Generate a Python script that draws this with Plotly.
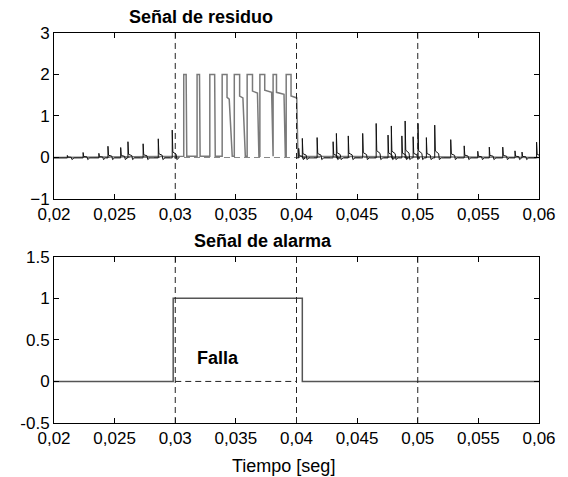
import plotly.graph_objects as go

# ---------------- data (time in ms) ----------------
# residue pulses during the fault (0.03 - 0.04 s)
pulse_rise_ms = [30.70, 31.80, 32.85, 33.87, 34.87, 35.93, 36.98, 38.07, 39.15]
pulse_top_end_ms = [30.90, 32.00, 33.25, 34.27, 35.31, 36.37, 37.38, 38.35, 39.55]
pulse_top = [2.0, 2.0, 2.0, 2.0, 2.0, 2.0, 2.0, 2.0, 2.0]
pulse_step_level = [2.0, 2.0, 2.0, 1.45, 1.48, 1.60, 1.62, 1.57, 1.48]
pulse_step_end_ms = [30.90, 32.00, 33.25, 34.45, 35.58, 36.78, 37.95, 38.97, 40.02]
pulse_fall_end_ms = [30.95, 32.05, 33.30, 34.70, 35.78, 36.90, 38.03, 39.08, 40.12]

# residue spikes outside the fault
spike_t_ms = [21.1, 22.4, 23.7, 24.45, 25.5, 26.1, 27.35, 28.6, 29.75,
              40.18, 40.48, 41.70, 43.02, 43.29, 44.27, 45.46, 46.57, 47.55,
              47.82, 48.69, 48.96, 49.62, 50.02, 50.71, 51.40, 52.72, 53.83,
              54.95, 55.90, 57.01, 58.02, 58.60, 59.80]
spike_h = [0.05, 0.12, 0.10, 0.27, 0.24, 0.38, 0.33, 0.45, 0.66,
           0.22, 0.46, 0.48, 0.38, 0.58, 0.52, 0.58, 0.82, 0.54,
           0.76, 0.52, 0.88, 0.50, 0.82, 0.48, 0.78, 0.43, 0.28,
           0.15, 0.25, 0.25, 0.16, 0.13, 0.37]

# alarm signal
alarm_t_ms = [20.0, 29.83, 29.83, 40.48, 40.48, 60.0]
alarm_v = [0, 0, 1, 1, 0, 0]

# fault markers
marker_t = [0.03, 0.04, 0.05]
x_ticks = [0.02, 0.025, 0.03, 0.035, 0.04, 0.045, 0.05, 0.055, 0.06]
x_ticktext = ["0,02", "0,025", "0,03", "0,035", "0,04", "0,045", "0,05", "0,055", "0,06"]
y1_ticks = [-1, 0, 1, 2, 3]
y2_ticks = [-0.5, 0, 0.5, 1, 1.5]
y2_ticktext = ["-0.5", "0", "0.5", "1", "1.5"]

# ---------------- build traces ----------------
ms = 1e-3
base = 0.03
res_t = [20.0, pulse_rise_ms[0]]
res_v = [0.0, base]
for r, te, top, lv, se, fe in zip(pulse_rise_ms, pulse_top_end_ms, pulse_top,
                                   pulse_step_level, pulse_step_end_ms, pulse_fall_end_ms):
    res_t += [r, r, te, te, se, fe]
    res_v += [base, top, top, lv, lv * 0.97, base]
res_t += [60.0]
res_v += [0.0]
res_t = [t * ms for t in res_t]

sp_t = [20.0]
sp_v = [-0.01]
for t, h in zip(spike_t_ms, spike_h):
    if t > 40.0 and sp_t[-1] is not None and sp_t[-1] < 31:
        sp_t += [None, 40.05]
        sp_v += [None, -0.01]
    sp_t += [t, t, t + 0.05, t + 0.32, t + 0.38, t + 0.55]
    sp_v += [-0.01, h, 0.2 * h, 0.12 * h, -0.05, -0.01]
sp_t += [60.0]
sp_v += [-0.01]
sp_t = [None if t is None else t * ms for t in sp_t]

fig = go.Figure()
fig.add_trace(go.Scatter(x=[0.02, 0.06], y=[0, 0], mode="lines",
                         line=dict(color="#888888", width=1, dash="6px,4px"),
                         xaxis="x", yaxis="y", showlegend=False, hoverinfo="skip"))
fig.add_trace(go.Scatter(x=res_t, y=res_v, mode="lines",
                         line=dict(color="#7a7a7a", width=1.5),
                         xaxis="x", yaxis="y", showlegend=False))
fig.add_trace(go.Scatter(x=sp_t, y=sp_v, mode="lines", connectgaps=False,
                         line=dict(color="#111111", width=1),
                         xaxis="x", yaxis="y", showlegend=False))
fig.add_trace(go.Scatter(x=[marker_t[0], marker_t[1]], y=[0, 0], mode="lines",
                         line=dict(color="#222222", width=1, dash="6px,4px"),
                         xaxis="x2", yaxis="y2", showlegend=False, hoverinfo="skip"))
fig.add_trace(go.Scatter(x=[t * ms for t in alarm_t_ms], y=alarm_v, mode="lines",
                         line=dict(color="#555555", width=1.5),
                         xaxis="x2", yaxis="y2", showlegend=False))

shapes = []
for m in marker_t:
    for xr, yr in (("x", "y domain"), ("x2", "y2 domain")):
        shapes.append(dict(type="line", xref=xr, yref=yr, x0=m, x1=m, y0=0, y1=1,
                           line=dict(color="#222222", width=1, dash="6px,4px")))

family = "Liberation Sans, Arial, Helvetica, sans-serif"
tick_font = dict(family=family, size=17, color="black")
text_font = dict(family=family, size=18, color="black")
axis_common = dict(showline=True, linecolor="black", linewidth=1, mirror="ticks",
                   ticks="inside", ticklen=5, tickcolor="black", showgrid=False,
                   zeroline=False, tickfont=tick_font)

# the page body has an 8px margin; plot area spans page x 46..549, y 33..423
fig.update_layout(
    width=560, height=469,
    margin=dict(l=38, r=19, t=25, b=54),
    paper_bgcolor="white", plot_bgcolor="white",
    font=text_font,
    xaxis=dict(domain=[0, 1], range=[0.02, 0.06], tickvals=x_ticks, ticktext=x_ticktext,
               anchor="y", **axis_common),
    yaxis=dict(domain=[0.5744, 1], range=[-1, 3], tickvals=y1_ticks, anchor="x", **axis_common),
    xaxis2=dict(domain=[0, 1], range=[0.02, 0.06], tickvals=x_ticks, ticktext=x_ticktext,
                anchor="y2", **axis_common),
    yaxis2=dict(domain=[0, 0.4264], range=[-0.5, 1.5], tickvals=y2_ticks, ticktext=y2_ticktext,
                anchor="x2", **axis_common),
    shapes=shapes,
    annotations=[
        dict(text="<b>Señal de residuo</b>", xref="paper", yref="paper", x=0.3022, y=1.041,
             xanchor="center", yanchor="middle", showarrow=False, font=text_font),
        dict(text="<b>Señal de alarma</b>", xref="paper", yref="paper", x=0.4314, y=0.4667,
             xanchor="center", yanchor="middle", showarrow=False, font=text_font),
        dict(text="Tiempo [seg]", xref="paper", yref="paper", x=0.474, y=-0.110,
             xanchor="center", yanchor="middle", showarrow=False, font=text_font),
        dict(text="<b>Falla</b>", xref="x2", yref="y2", x=0.03165, y=0.28,
             xanchor="left", yanchor="middle", showarrow=False, font=text_font),
    ],
)
fig.write_html("out.html")
